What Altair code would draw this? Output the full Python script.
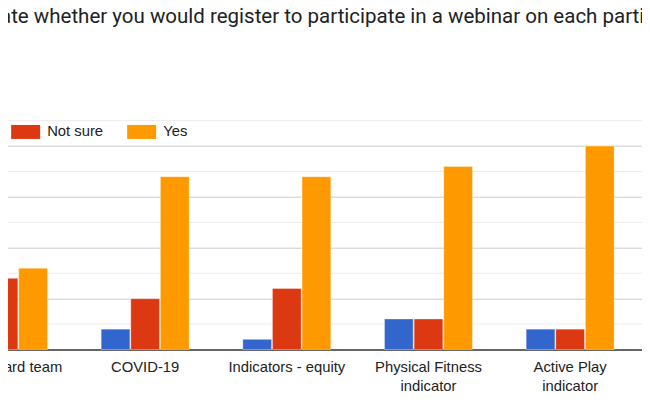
import altair as alt
import pandas as pd

categories = ["Report Card team", "COVID-19", "Indicators - equity",
              "Physical Fitness indicator", "Active Play indicator"]
series = ["No", "Not sure", "Yes"]
no_values = [2, 2, 1, 3, 2]
not_sure_values = [7, 5, 6, 3, 2]
yes_values = [8, 17, 17, 18, 20]
colors = ["#3366cc", "#dc3912", "#ff9900"]
major_ticks = [0, 5, 10, 15, 20]
minor_ticks = [2.5, 7.5, 12.5, 17.5, 22.5]
title_text = "ate whether you would register to participate in a webinar on each partic"

rows = []
for i, c in enumerate(categories):
    for s, vals in zip(series, [no_values, not_sure_values, yes_values]):
        rows.append({"topic": c, "answer": s, "count": vals[i]})
df = pd.DataFrame(rows)

ydom = [0, 22.5]
y_axis = alt.Axis(values=major_ticks, labels=False, ticks=False, domain=False, title=None,
                  gridColor="#cccccc", gridWidth=1)

bars = alt.Chart(df).mark_bar(stroke="white", strokeOpacity=0.35, strokeWidth=1).encode(
    x=alt.X("topic:N", sort=categories,
            scale=alt.Scale(domain=categories, paddingInner=0.379, paddingOuter=0.6895,
                            align=0.1374, round=False),
            axis=alt.Axis(title=None, labelAngle=0, ticks=False, grid=False,
                          domainColor="#666666", domainWidth=2,
                          labelFont="Liberation Sans", labelFontSize=14.8, labelColor="#222222",
                          labelPadding=10, labelLineHeight=19, labelBaseline="top",
                          labelOverlap=False, labelLimit=0,
                          labelExpr="split(replace(datum.label, ' indicator', '|indicator'), '|')")),
    xOffset=alt.XOffset("answer:N", sort=series,
                        scale=alt.Scale(domain=series, paddingInner=0.03, paddingOuter=0, round=False)),
    y=alt.Y("count:Q", scale=alt.Scale(domain=ydom, nice=False, zero=True), axis=y_axis),
    color=alt.Color("answer:N", sort=series, scale=alt.Scale(domain=series, range=colors),
                    legend=alt.Legend(orient="none", legendX=-0.5, legendY=-3.5, direction="horizontal",
                                      title=None, symbolType="M-1,-0.483H1V0.483H-1Z", symbolSize=841,
                                      symbolStrokeWidth=0, symbolOpacity=1,
                                      labelFont="Liberation Sans", labelFontSize=14.8, labelColor="#222222",
                                      labelOffset=7, columnPadding=24, padding=0)),
)

rules = alt.Chart(pd.DataFrame({"v": minor_ticks})).mark_rule(color="#ebebeb", strokeWidth=1).encode(
    y=alt.Y("v:Q", scale=alt.Scale(domain=ydom, nice=False), axis=y_axis)
)

title = alt.Chart(pd.DataFrame({"t": [title_text]})).mark_text(
    align="left", baseline="alphabetic", font="Roboto", fontSize=20.5, color="#202124"
).encode(text="t:N", x=alt.value(67.35), y=alt.value(-98.2))

chart = alt.layer(rules, bars, title).properties(
    width=850, height=228.8,
    padding={"left": -75.35, "right": -140.65, "top": 112.7, "bottom": 57.5},
    autosize=alt.AutoSizeParams(type="none"),
).configure_view(stroke=None)

chart.save("out.html", embed_options={"renderer": "svg", "actions": False})
